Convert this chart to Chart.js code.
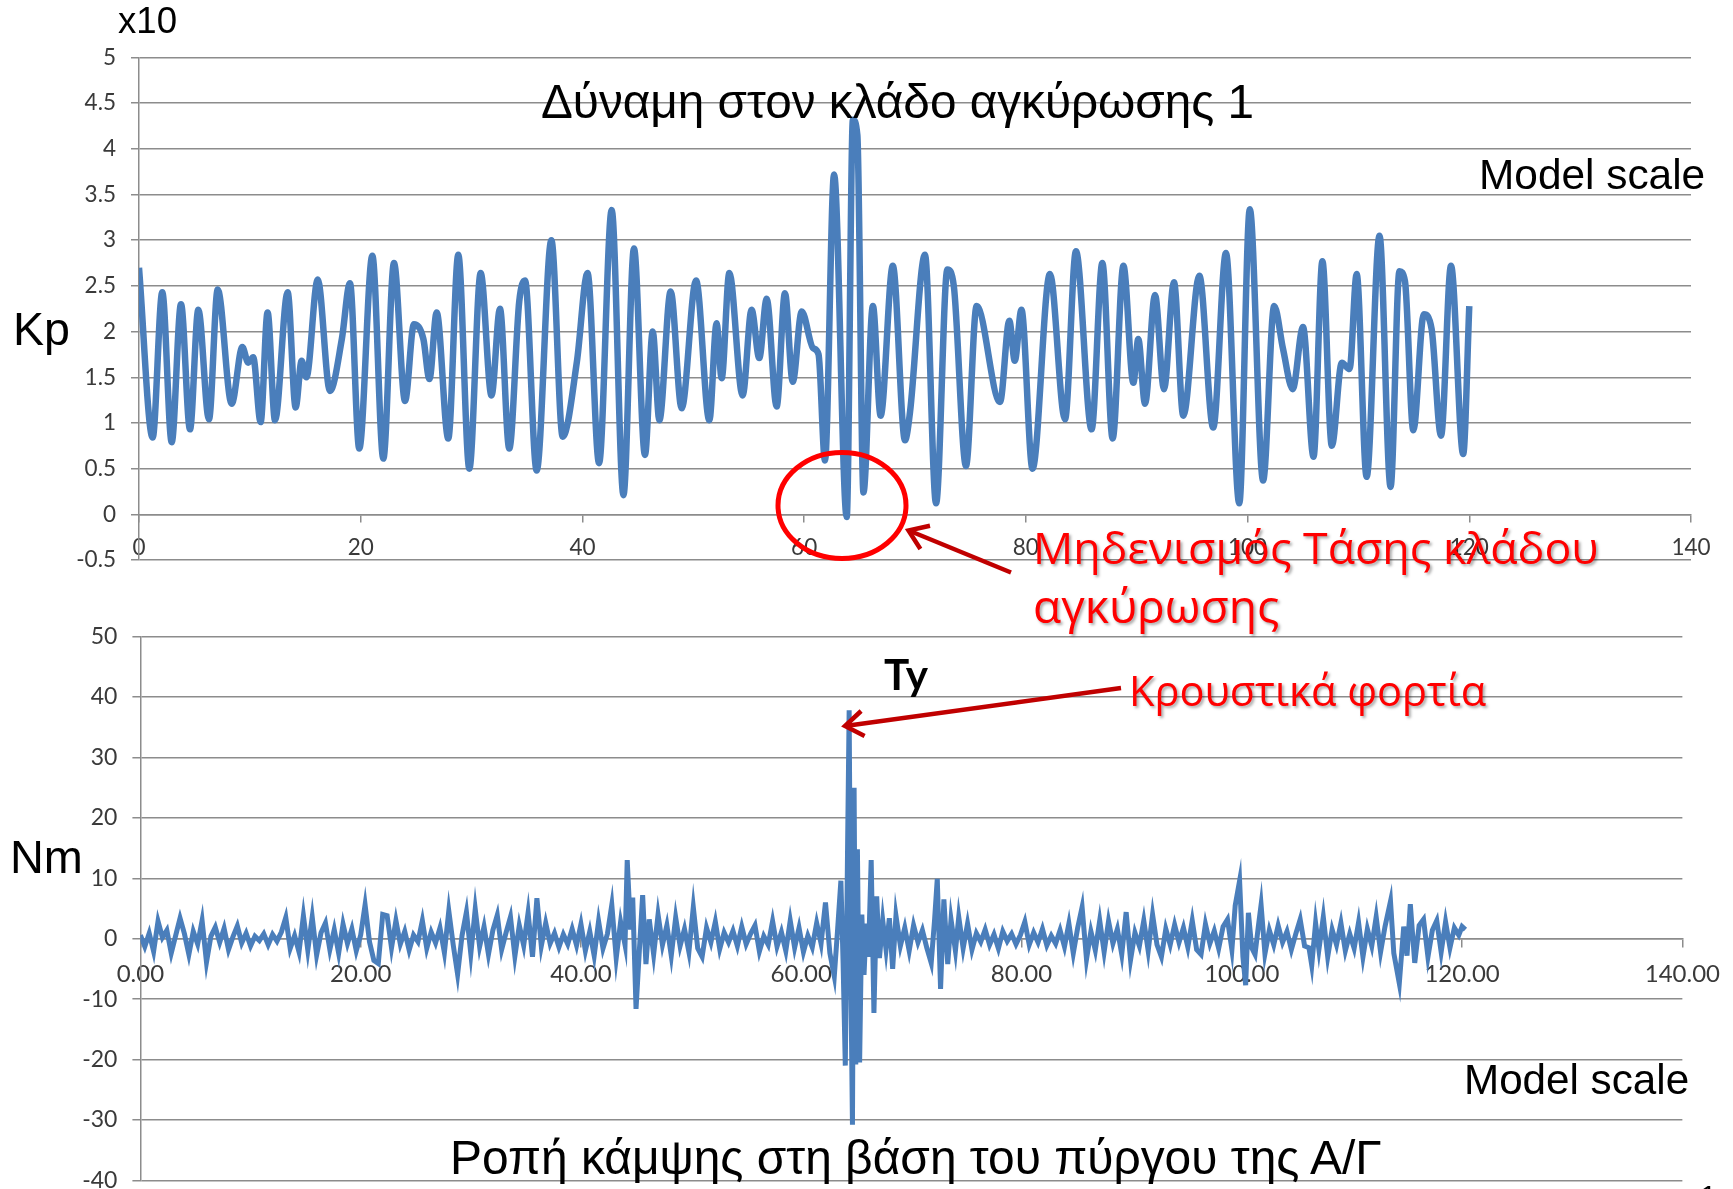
<!DOCTYPE html>
<html>
<head>
<meta charset="utf-8">
<script src="https://cdn.jsdelivr.net/npm/chart.js@4.4.1/dist/chart.umd.min.js"></script>
<style>
  html, body { margin: 0; padding: 0; background: #fff; overflow: hidden; }
  #page { position: relative; width: 1733px; height: 1189px; overflow: hidden; background: #fff; }
  canvas { position: absolute; left: 0; }
  svg { position: absolute; left: 0; top: 0; }
  .lbl { position: absolute; white-space: nowrap; line-height: 1; transform: translateY(-50%);
         font-family: 'Liberation Sans', Arial, sans-serif; color: #000; font-size: 40px; }
  .red { color: #ff0000; font-family: 'Open Sans', sans-serif; text-shadow: 2px 2px 3px rgba(0,0,0,0.35); }
  .bold { font-family: Lato, 'Open Sans', sans-serif; font-weight: bold; }
</style>
</head>
<body>
<div id="page">
  <canvas id="forceChart" style="top:0" width="1733" height="600"></canvas>
  <canvas id="momentChart" style="top:600px" width="1733" height="610"></canvas>

  <svg width="1733" height="1189">
    <ellipse cx="842" cy="505.5" rx="64" ry="53" fill="none" stroke="#ff0000" stroke-width="5"/>
    <line x1="1011" y1="572.5" x2="910" y2="531" stroke="#c00000" stroke-width="4.5"/>
    <polyline points="920.4,549 908.5,530.5 930,525.7" fill="none" stroke="#c00000" stroke-width="4.5"/>
    <line x1="1121" y1="688" x2="847" y2="725.7" stroke="#c00000" stroke-width="4.5"/>
    <polyline points="864.6,736 845,726 861.1,711" fill="none" stroke="#c00000" stroke-width="4.5"/>
  </svg>

  <div class="lbl" style="left:118px;top:21px" data-w="59">x10</div>
  <div class="lbl" style="left:13px;top:329px" data-w="57">Kp</div>
  <div class="lbl" style="left:541px;top:102px" data-w="713">Δύναμη στον κλάδο αγκύρωσης 1</div>
  <div class="lbl" style="left:1479px;top:175px" data-w="226">Model scale</div>
  <div class="lbl red" style="left:1033px;top:547px" data-w="566">Μηδενισμός Τάσης κλάδου</div>
  <div class="lbl red" style="left:1033px;top:606px" data-w="246">αγκύρωσης</div>
  <div class="lbl bold" style="left:884px;top:674px" data-w="44">Ty</div>
  <div class="lbl red" style="left:1129px;top:691px" data-w="357">Κρουστικά φορτία</div>
  <div class="lbl" style="left:10px;top:857px" data-w="73">Nm</div>
  <div class="lbl" style="left:1464px;top:1080px" data-w="225">Model scale</div>
  <div class="lbl" style="left:450px;top:1158px" data-w="931">Ροπή κάμψης στη βάση του πύργου της Α/Γ</div>
  <div class="lbl" style="left:1700px;top:1196px;font-size:30px">1</div>
</div>

<script>
// Top chart: anchor line force (x10 Kp) vs time
const forceTime = [
  0, 1.23, 2.1, 2.95, 3.79, 4.6, 5.35, 6.31, 7.1, 8.36,
  9.32, 9.85, 10.3, 10.97, 11.6, 12.27, 13.41, 14.13, 14.67, 15.1,
  16.12, 17.23, 18.3, 19.03, 19.87, 21.05, 22.04, 23.0, 24.0, 24.8,
  25.65, 26.2, 26.85, 27.9, 28.8, 29.8, 30.82, 31.8, 32.56, 33.4,
  34.3, 34.82, 35.87, 37.2, 38.22, 39.5, 40.46, 41.5, 42.64, 43.7,
  44.65, 45.64, 46.34, 46.94, 47.96, 48.95, 50.25, 51.45, 52.1, 52.56,
  53.25, 54.45, 55.26, 55.95, 56.62, 57.52, 58.27, 58.97, 59.78, 60.8,
  61.3, 61.88, 62.7, 63.84, 64.4, 64.8, 65.35, 66.2, 66.9, 68.0,
  69.1, 69.55, 70.9, 71.9, 72.92, 73.5, 74.6, 75.56, 77.67, 78.51,
  79.0, 79.6, 80.6, 82.17, 83.53, 84.52, 85.93, 86.9, 87.83, 88.8,
  89.7, 90.14, 90.75, 91.65, 92.46, 93.36, 94.2, 95.65, 96.9, 98.05,
  99.25, 100.2, 101.4, 102.4, 103.2, 104.07, 105.0, 105.95, 106.75, 107.6,
  108.5, 109.2, 109.84, 110.74, 111.9, 112.9, 113.7, 114.2, 114.95, 115.9,
  116.6, 117.45, 118.35, 119.45, 120.0
];
const forceKp = [
  2.7, 0.84, 2.43, 0.79, 2.3, 0.93, 2.24, 1.04, 2.46, 1.21,
  1.83, 1.66, 1.72, 1.01, 2.21, 1.03, 2.43, 1.17, 1.68, 1.5,
  2.57, 1.35, 1.92, 2.53, 0.72, 2.83, 0.61, 2.75, 1.24, 2.08,
  1.92, 1.48, 2.21, 0.83, 2.84, 0.5, 2.64, 1.3, 2.25, 0.72,
  2.33, 2.56, 0.48, 3.0, 0.85, 1.67, 2.64, 0.56, 3.33, 0.21,
  2.91, 0.65, 2.0, 1.03, 2.44, 1.16, 2.56, 1.03, 2.09, 1.49,
  2.64, 1.3, 2.24, 1.71, 2.36, 1.18, 2.42, 1.45, 2.22, 1.82,
  1.75, 0.59, 3.72, -0.03, 4.32, 4.15, 0.24, 2.28, 1.08, 2.72,
  0.81, 1.12, 2.84, 0.12, 2.68, 2.5, 0.53, 2.28, 1.23, 2.12,
  1.68, 2.24, 0.5, 2.63, 1.04, 2.88, 0.93, 2.75, 0.83, 2.72,
  1.44, 1.92, 1.21, 2.4, 1.37, 2.54, 1.08, 2.61, 0.95, 2.86,
  0.12, 3.34, 0.37, 2.28, 1.81, 1.37, 2.05, 0.63, 2.77, 0.75,
  1.66, 1.59, 2.63, 0.41, 3.05, 0.3, 2.66, 2.55, 0.92, 2.19,
  2.03, 0.86, 2.72, 0.66, 2.28
];
const forceXTicks = [0, 20, 40, 60, 80, 100, 120, 140];
const forceYTicks = [-0.5, 0, 0.5, 1, 1.5, 2, 2.5, 3, 3.5, 4, 4.5, 5];

// Bottom chart: bending moment at tower base (Nm) vs time
const momentTime = [
  0.0, 0.4, 0.8, 1.2, 1.6, 2.0, 2.4, 2.8, 3.2, 3.6,
  4.0, 4.4, 4.8, 5.2, 5.6, 6.0, 6.4, 6.8, 7.2, 7.6,
  8.0, 8.4, 8.8, 9.2, 9.6, 10.0, 10.4, 10.8, 11.2, 11.6,
  12.0, 12.4, 12.8, 13.2, 13.6, 14.0, 14.4, 14.8, 15.2, 15.6,
  16.0, 16.4, 16.8, 17.2, 17.6, 18.0, 18.4, 18.8, 19.2, 19.6,
  20.0, 20.4, 20.8, 21.2, 21.6, 22.0, 22.4, 22.8, 23.2, 23.6,
  24.0, 24.4, 24.8, 25.2, 25.6, 26.0, 26.4, 26.8, 27.2, 27.6,
  28.0, 28.4, 28.8, 29.2, 29.6, 30.0, 30.4, 30.8, 31.2, 31.6,
  32.0, 32.4, 32.8, 33.2, 33.6, 34.0, 34.4, 34.8, 35.2, 35.6,
  36.0, 36.4, 36.8, 37.2, 37.6, 38.0, 38.4, 38.8, 39.2, 39.6,
  40.0, 40.4, 40.8, 41.2, 41.6, 42.0, 42.4, 42.8, 43.2, 43.6,
  44.0, 44.2, 44.5, 44.7, 45.0, 45.3, 45.6, 45.9, 46.2, 46.6,
  47.0, 47.4, 47.8, 48.2, 48.6, 49.0, 49.4, 49.8, 50.2, 50.6,
  51.0, 51.4, 51.8, 52.2, 52.6, 53.0, 53.4, 53.8, 54.2, 54.6,
  55.0, 55.4, 55.8, 56.2, 56.6, 57.0, 57.4, 57.8, 58.2, 58.6,
  59.0, 59.4, 59.8, 60.2, 60.6, 61.0, 61.4, 61.8, 62.2, 62.6,
  63.0, 63.3, 63.6, 63.8, 64.0, 64.2, 64.35, 64.5, 64.65, 64.8,
  64.95, 65.1, 65.3, 65.5, 65.7, 65.9, 66.1, 66.35, 66.6, 66.85,
  67.1, 67.4, 67.7, 68.0, 68.3, 68.6, 69.0, 69.4, 69.8, 70.2,
  70.6, 71.0, 71.4, 71.8, 72.1, 72.35, 72.65, 72.95, 73.3, 73.6,
  74.0, 74.3, 74.7, 75.1, 75.5, 75.9, 76.3, 76.7, 77.1, 77.5,
  77.9, 78.3, 78.7, 79.1, 79.5, 79.9, 80.3, 80.7, 81.1, 81.5,
  81.9, 82.3, 82.7, 83.1, 83.5, 83.9, 84.3, 84.7, 85.1, 85.5,
  85.9, 86.3, 86.7, 87.1, 87.5, 87.9, 88.3, 88.7, 89.1, 89.5,
  89.9, 90.3, 90.7, 91.1, 91.5, 91.9, 92.3, 92.7, 93.1, 93.5,
  93.9, 94.3, 94.7, 95.1, 95.5, 95.9, 96.3, 96.7, 97.1, 97.5,
  97.9, 98.3, 98.7, 99.1, 99.4, 99.8, 100.1, 100.35, 100.6, 100.9,
  101.2, 101.5, 101.75, 102.1, 102.5, 102.9, 103.3, 103.7, 104.1, 104.5,
  104.9, 105.3, 105.7, 106.1, 106.35, 106.7, 107.0, 107.4, 107.8, 108.2,
  108.6, 109.0, 109.4, 109.8, 110.2, 110.6, 111.0, 111.4, 111.8, 112.2,
  112.6, 113.0, 113.5, 113.8, 114.3, 114.7, 115.0, 115.3, 115.7, 116.1,
  116.5, 116.9, 117.3, 117.7, 118.1, 118.5, 118.9, 119.3, 119.7, 120.0,
  120.3
];
const momentNm = [
  0.6, -1.3, 0.9, -2.1, 2.9, 0.2, 1.4, -2.4, 0.5, 3.4,
  0.8, -2.6, 1.2, -0.9, 3.0, -3.9, 0.4, 1.9, -0.6, 1.7,
  -1.8, 0.3, 2.1, -0.7, 0.9, -1.2, 0.4, -0.3, 0.8, -1.0,
  0.7, -0.4, 1.1, 3.5, -1.6, 0.5, -2.2, 3.8, -1.9, 3.6,
  -2.7, 1.0, 2.6, -1.8, 1.5, -2.4, 2.4, -0.8, 1.6, -2.0,
  0.6, 5.6, -0.5, -3.6, -4.1, 4.0, 3.8, -1.5, 3.0, -0.9,
  1.2, -1.9, 0.6, -0.5, 3.0, -1.6, 1.1, -0.7, 1.8, -2.3,
  4.6, -1.0, -5.9, 0.5, 4.4, -2.5, 4.9, -1.3, 2.0, -2.6,
  1.4, 3.9, -1.8, 1.0, 3.6, -2.9, 2.2, -1.1, 4.3, -3.0,
  6.7, -1.2, 2.6, -0.8, 0.9, -1.4, 0.7, -0.9, 1.6, -1.1,
  2.4, -2.0, 1.2, -2.8, 2.9, -1.6, 0.8, 5.6, -3.2, 2.8,
  -1.0, 13.0, 1.5, 6.8, -11.6, -2.0, 7.2, -4.2, 3.2, -2.6,
  4.0, -1.0, 2.2, -2.8, 3.5, -1.2, 1.6, -2.2, 5.2, -1.6,
  -3.0, 1.8, -0.6, 2.8, -1.7, 1.0, -0.6, 1.3, -1.2, 2.0,
  -0.9, 0.8, 2.2, -2.1, 0.4, -1.0, 2.9, -1.3, 1.1, -2.0,
  3.0, -1.5, 1.8, -2.2, 0.5, -1.4, 2.6, -0.8, 6.0, -2.4,
  -6.2, 1.5, 9.6, -4.0, -21.0, 14.0, 37.8, -6.0, -30.8, 25.0,
  -20.8, 14.8, -20.5, 4.0, -6.0, 2.5, -3.0, 13.0, -12.3, 7.0,
  -3.2, 3.0, -1.8, 3.4, -5.0, 3.8, -1.2, 1.8, -2.0, 2.2,
  -0.6, 1.4, -1.5, -4.0, 3.0, 9.9, -8.3, 6.5, -4.2, 3.2,
  -2.0, 3.6, -1.6, 2.5, -1.8, 0.9, -0.5, 1.5, -1.0, 0.7,
  -1.6, 1.2, -0.4, 0.8, -0.9, 0.6, 2.8, -1.0, 1.0, -0.6,
  1.6, -1.1, 0.5, -0.8, 1.4, -1.3, 2.5, -2.4, 1.8, 5.2,
  -3.4, 1.2, -1.9, 3.0, -2.2, 2.9, -0.8, 1.6, -2.6, 4.4,
  -3.5, 1.0, -1.2, 3.0, -2.0, 4.0, -1.0, -3.0, 1.6, -1.0,
  2.3, -0.6, 1.8, -1.4, 3.0, -1.8, -2.6, 2.4, -0.8, 1.3,
  -1.6, 2.0, 3.2, -1.8, 5.5, 9.6, -3.0, -7.7, 4.3, -1.5,
  -2.6, 2.0, 5.6, -2.5, 1.4, -1.0, 2.2, -0.6, 1.2, -1.8,
  0.8, 3.2, -1.2, -1.5, -4.4, 2.6, -1.8, 3.6, -3.0, 1.5,
  -1.0, 2.6, -2.0, 0.8, -1.6, 2.7, -3.0, 1.6, -1.2, 3.6,
  -2.2, 2.0, 6.2, -2.4, -7.4, 2.0, -2.8, 5.7, -4.0, 2.2,
  3.2, -3.0, 1.4, 3.0, -2.2, 2.8, -1.5, 1.8, 0.6, 2.0,
  1.5
];
const momentXTicks = [0, 20, 40, 60, 80, 100, 120, 140];
const momentYTicks = [-40, -30, -20, -10, 0, 10, 20, 30, 40, 50];

const gridGray = '#8c8c8c';
const lineBlue = '#4a7ebb';
const tickColor = '#3a3a3a';

function setTicks(values) {
  return scale => { scale.ticks = values.map(v => ({ value: v })); };
}

// force chart
new Chart(document.getElementById('forceChart').getContext('2d'), {
  type: 'line',
  data: {
    datasets: [{
      data: forceTime.map((t, i) => ({ x: t, y: forceKp[i] })),
      borderColor: lineBlue,
      borderWidth: 6.5,
      pointRadius: 0,
      cubicInterpolationMode: 'monotone',
      fill: false
    }]
  },
  options: {
    responsive: false,
    animation: false,
    layout: { padding: { left: 0, right: 42, top: 57.5, bottom: 40 } },
    plugins: { legend: { display: false }, tooltip: { enabled: false } },
    scales: {
      x: {
        type: 'linear', min: 0, max: 140,
        position: { y: 0 },
        afterBuildTicks: setTicks(forceXTicks),
        afterFit: s => { s.height = 0; },
        grid: { drawOnChartArea: false, tickLength: 7, color: gridGray, lineWidth: 1.5 },
        border: { color: gridGray, width: 1.5 },
        ticks: { padding: 13, color: tickColor, font: { family: 'Lato', size: 22.5 }, maxRotation: 0,
                 callback: v => String(v) }
      },
      y: {
        min: -0.5, max: 5,
        afterBuildTicks: setTicks(forceYTicks),
        afterFit: s => { s.width = 139; },
        grid: { tickLength: 8, color: gridGray, lineWidth: 1.5 },
        border: { color: gridGray, width: 1.5 },
        ticks: { padding: 15, color: tickColor, font: { family: 'Lato', size: 22.5 },
                 callback: v => String(Math.round(v * 10) / 10) }
      }
    }
  }
});

// moment chart
new Chart(document.getElementById('momentChart').getContext('2d'), {
  type: 'line',
  data: {
    datasets: [{
      data: momentTime.map((t, i) => ({ x: t, y: momentNm[i] })),
      borderColor: lineBlue,
      borderWidth: 5,
      pointRadius: 0,
      tension: 0,
      fill: false
    }]
  },
  options: {
    responsive: false,
    animation: false,
    layout: { padding: { left: 0, right: 49, top: 36.6, bottom: 29.6 } },
    plugins: { legend: { display: false }, tooltip: { enabled: false } },
    scales: {
      x: {
        type: 'linear', min: 0, max: 140,
        position: { y: 0 },
        afterBuildTicks: setTicks(momentXTicks),
        afterFit: s => { s.height = 0; },
        grid: { drawOnChartArea: false, tickLength: 8, color: gridGray, lineWidth: 1.5 },
        border: { color: gridGray, width: 1.5 },
        ticks: { padding: 13, color: tickColor, font: { family: 'Lato', size: 24 }, maxRotation: 0,
                 callback: v => v.toFixed(2) }
      },
      y: {
        min: -40, max: 50,
        afterBuildTicks: setTicks(momentYTicks),
        afterFit: s => { s.width = 140.4; },
        grid: { tickLength: 8, color: gridGray, lineWidth: 1.5 },
        border: { color: gridGray, width: 1.5 },
        ticks: { padding: 15, color: tickColor, font: { family: 'Lato', size: 23 },
                 callback: v => String(v) }
      }
    }
  }
});

// size the annotation texts to the widths they take in the slide
document.querySelectorAll('.lbl[data-w]').forEach(el => {
  const w = el.getBoundingClientRect().width;
  const size = parseFloat(getComputedStyle(el).fontSize);
  el.style.fontSize = (size * Number(el.dataset.w) / w).toFixed(1) + 'px';
});
</script>
</body>
</html>
